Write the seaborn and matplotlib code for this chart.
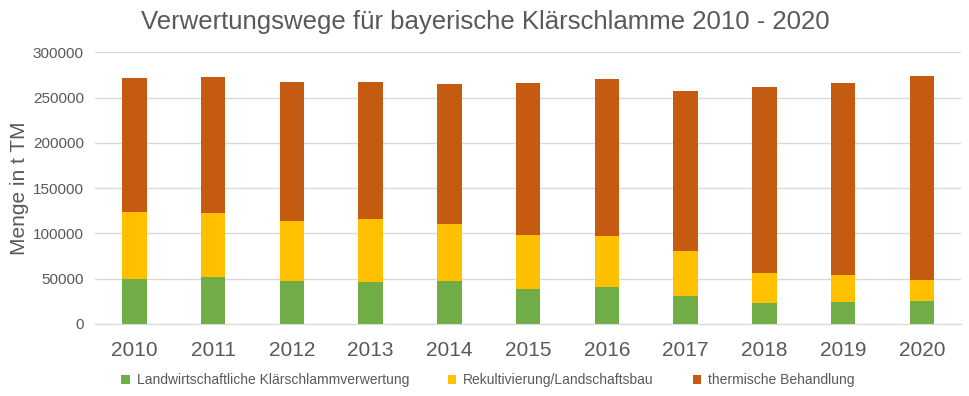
import numpy as np
import pandas as pd
import matplotlib
matplotlib.use("Agg")
import matplotlib.pyplot as plt
import seaborn as sns

# Jahre und Mengen (t TM)
jahre = ["2010", "2011", "2012", "2013", "2014", "2015", "2016", "2017", "2018", "2019", "2020"]
landwirtschaft = [49700, 51900, 47500, 46400, 47500, 38700, 40900, 30900, 23200, 24300, 25400]
rekultivierung = [74000, 70700, 66300, 69600, 63000, 59600, 56300, 49700, 33100, 29800, 23200]
thermisch = [148000, 150200, 153500, 151300, 154600, 167900, 173400, 176800, 205500, 212100, 225300]

serien = ["Landwirtschaftliche Klärschlammverwertung", "Rekultivierung/Landschaftsbau", "thermische Behandlung"]
farben = ["#70AD47", "#FFC000", "#C55A11"]

df = pd.DataFrame({"Jahr": jahre, serien[0]: landwirtschaft, serien[1]: rekultivierung, serien[2]: thermisch})

sns.set_style("white")
plt.rcParams["font.family"] = ["Liberation Sans", "DejaVu Sans"]

fig, ax = plt.subplots(figsize=(9.7, 3.96), dpi=100)
fig.subplots_adjust(left=0.098, right=0.991, top=0.868, bottom=0.182)

unten = np.zeros(len(jahre))
for name, farbe in zip(serien, farben):
    sns.barplot(data=df, x="Jahr", y=name, color=farbe, bottom=unten, width=0.31,
                label=name, ax=ax, saturation=1, linewidth=0)
    unten = unten + df[name].values

ax.set_ylim(0, 300000)
ax.set_yticks(range(0, 300001, 50000))
ax.yaxis.grid(True, color="#D9D9D9", linewidth=1)
ax.set_axisbelow(True)
for s in ["top", "right", "left"]:
    ax.spines[s].set_visible(False)
ax.spines["bottom"].set_color("#D9D9D9")
ax.tick_params(axis="y", length=0, labelsize=11, colors="#595959", pad=8)
ax.tick_params(axis="x", length=0, labelsize=15, colors="#595959", pad=12)
ax.set_xlabel("")
ax.set_ylabel("Menge in t TM", fontsize=15, color="#595959", labelpad=3)
fig.suptitle("Verwertungswege für bayerische Klärschlamme 2010 - 2020", fontsize=18.5,
             color="#595959", x=0.5, y=0.975, va="top")

ax.legend(loc="center", bbox_to_anchor=(0.503, 0.04), bbox_transform=fig.transFigure,
          ncol=3, frameon=False, fontsize=10, labelcolor="#595959", handlelength=0.6,
          handleheight=0.6, handletextpad=0.5, columnspacing=2.8)

fig.savefig("out.png", dpi=100)
